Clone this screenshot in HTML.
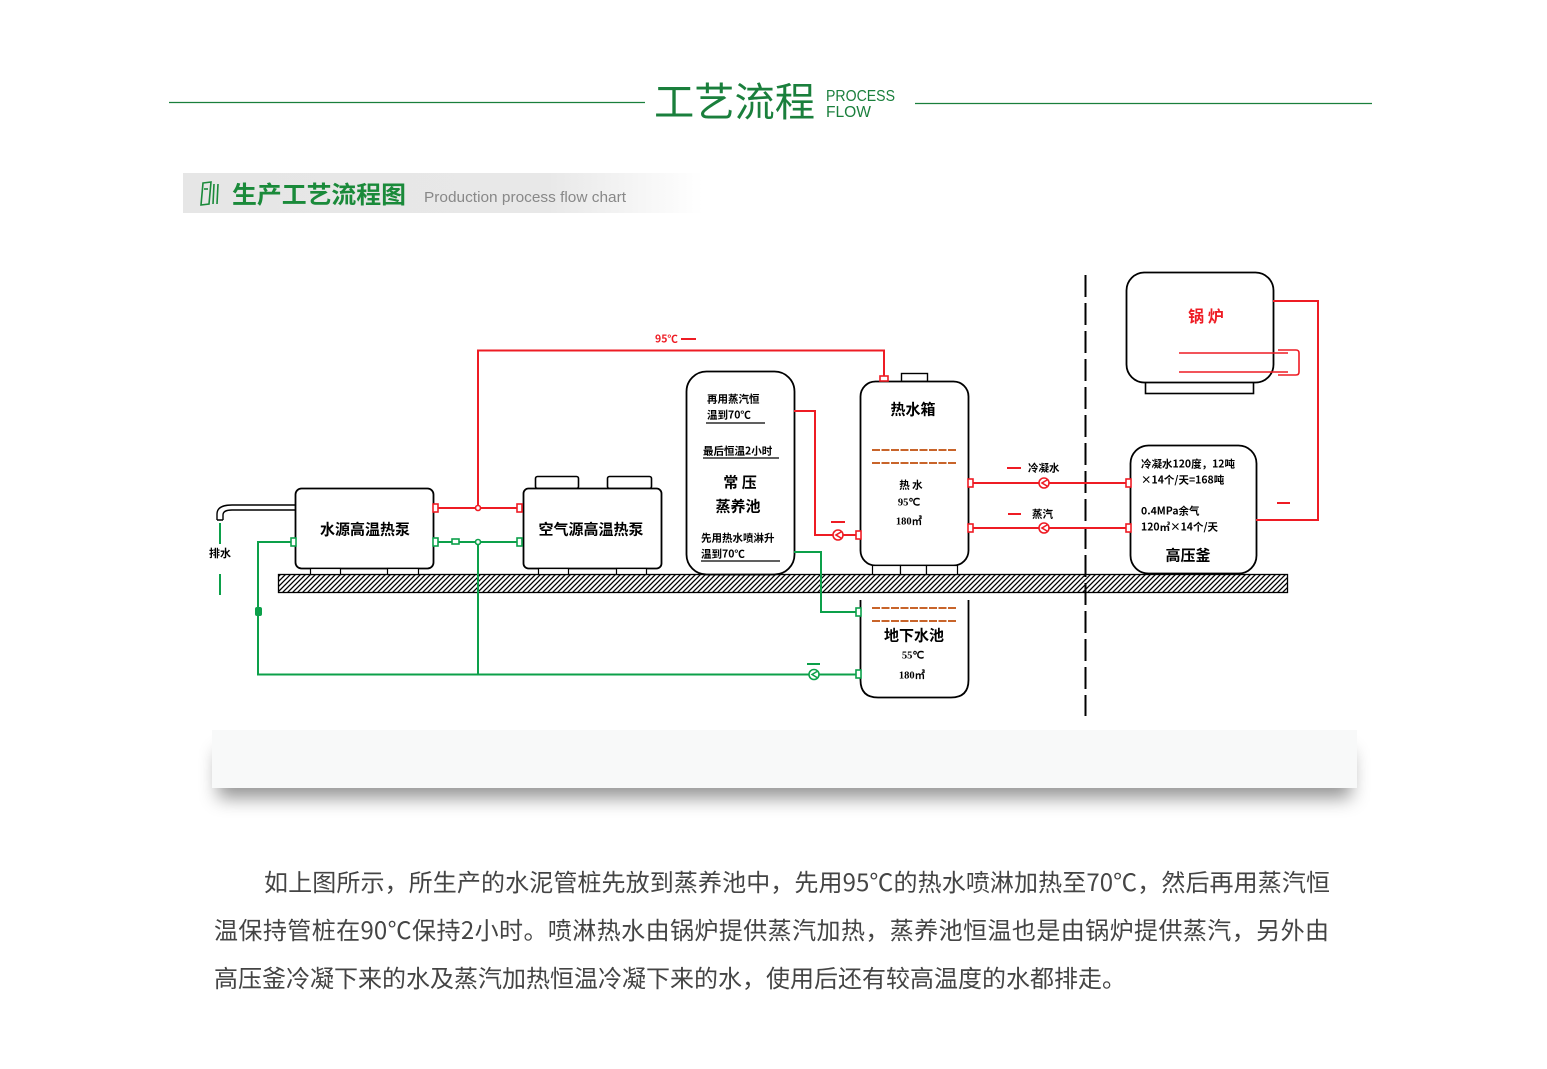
<!DOCTYPE html>
<html><head><meta charset="utf-8">
<style>
html,body{margin:0;padding:0;background:#fff;}
body{width:1547px;height:1069px;position:relative;overflow:hidden;font-family:"Liberation Sans","Noto Sans CJK SC",sans-serif;}
.panel{position:absolute;left:212px;top:730px;width:1145px;height:58px;background:#f8f9f9;box-shadow:0 16px 18px -6px rgba(0,0,0,0.42);}
.para{position:absolute;left:214px;font-size:24px;color:#444;font-family:"Noto Sans CJK SC","Liberation Sans",sans-serif;white-space:nowrap;line-height:30px;}
.j{text-align:justify;text-align-last:justify;white-space:normal;}
</style></head><body>
<div class="panel"></div>
<svg width="1547" height="1069" viewBox="0 0 1547 1069" style="position:absolute;left:0;top:0" xmlns="http://www.w3.org/2000/svg">
<defs>
<pattern id="hatch" patternUnits="userSpaceOnUse" width="5" height="5">
<rect width="5" height="5" fill="#fff"/>
<path d="M-1,6 L6,-1 M-1,1 L1,-1 M4,6 L6,4" stroke="#000" stroke-width="1.3"/>
</pattern>
<linearGradient id="bar" x1="0" x2="1" y1="0" y2="0">
<stop offset="0" stop-color="#e6e6e6"/>
<stop offset="0.7" stop-color="#e8e8e8"/>
<stop offset="1" stop-color="#ffffff"/>
</linearGradient>
</defs>

<!-- Header -->
<line x1="169" y1="102.5" x2="645" y2="102.5" stroke="#1a7f3c" stroke-width="1.3"/>
<line x1="915" y1="103.5" x2="1372" y2="103.5" stroke="#1a7f3c" stroke-width="1.3"/>
<text x="654" y="116" font-family="Noto Sans CJK SC, sans-serif" font-size="40" textLength="161" lengthAdjust="spacingAndGlyphs" fill="#1a7f3c">工艺流程</text>
<text x="826" y="101" font-family="Liberation Sans, sans-serif" font-size="15.5" textLength="69" lengthAdjust="spacingAndGlyphs" fill="#1a7f3c">PROCESS</text>
<text x="826" y="117" font-family="Liberation Sans, sans-serif" font-size="15.5" textLength="45" lengthAdjust="spacingAndGlyphs" fill="#1a7f3c">FLOW</text>

<!-- Section bar -->
<rect x="183" y="173" width="520" height="40" fill="url(#bar)"/>
<g stroke="#1a8a3a" stroke-width="1.6" fill="none">
<path d="M203,183 L211,182 L209,204 L201,205 Z"/>
<line x1="214" y1="184" x2="213" y2="204"/>
<line x1="218" y1="184" x2="217" y2="204"/>
<line x1="204" y1="189" x2="208" y2="189"/>
</g>
<text x="232" y="203" font-family="Noto Sans CJK SC, sans-serif" font-size="24" font-weight="bold" textLength="174" lengthAdjust="spacingAndGlyphs" fill="#1a8a3a">生产工艺流程图</text>
<text x="424" y="202" font-family="Liberation Sans, sans-serif" font-size="15" textLength="202" lengthAdjust="spacingAndGlyphs" fill="#888">Production process flow chart</text>

<!-- Ground -->
<rect x="278.5" y="574.5" width="1009" height="18" fill="url(#hatch)" stroke="#000" stroke-width="1.3"/>

<!-- Dashed divider -->
<line x1="1085.5" y1="275" x2="1085.5" y2="716" stroke="#000" stroke-width="2" stroke-dasharray="22,6"/>

<g font-family="Noto Sans CJK SC, sans-serif" fill="#000">
<!-- 水源高温热泵 -->
<rect x="295.5" y="488.5" width="138" height="80" rx="6" fill="#fff" stroke="#000" stroke-width="1.8"/>
<rect x="310.5" y="568.5" width="30" height="6" fill="#fff" stroke="#000" stroke-width="1.2"/>
<rect x="387.5" y="568.5" width="31" height="6" fill="#fff" stroke="#000" stroke-width="1.2"/>
<text x="365" y="529" font-size="15" font-weight="bold" text-anchor="middle" dominant-baseline="central">水源高温热泵</text>
<!-- drain pipe -->
<path d="M295,505 L232,505 M295,510 L232,510" stroke="#000" stroke-width="1.4" fill="none"/>
<path d="M232,505 Q217,505 217,514 L217,520 M232,510 Q223,510 223,515 L223,520 M217,520 L223,520" stroke="#000" stroke-width="1.4" fill="none"/>
<text x="220" y="553" font-size="11" font-weight="bold" text-anchor="middle" dominant-baseline="central">排水</text>
<line x1="220" y1="523" x2="220" y2="544" stroke="#0ca04a" stroke-width="2"/>
<line x1="220" y1="574" x2="220" y2="595" stroke="#0ca04a" stroke-width="2"/>

<!-- 空气源高温热泵 -->
<rect x="535.5" y="476.5" width="43" height="12" rx="2" fill="#fff" stroke="#000" stroke-width="1.6"/>
<rect x="607.5" y="476.5" width="44" height="12" rx="2" fill="#fff" stroke="#000" stroke-width="1.6"/>
<rect x="523.5" y="488.5" width="138" height="80" rx="5" fill="#fff" stroke="#000" stroke-width="1.8"/>
<rect x="538.5" y="568.5" width="30" height="6" fill="#fff" stroke="#000" stroke-width="1.2"/>
<rect x="616.5" y="568.5" width="30" height="6" fill="#fff" stroke="#000" stroke-width="1.2"/>
<text x="591" y="529" font-size="15" font-weight="bold" text-anchor="middle" dominant-baseline="central">空气源高温热泵</text>

<!-- 蒸养池 -->
<rect x="686.5" y="371.5" width="108" height="203" rx="20" fill="#fff" stroke="#000" stroke-width="1.8"/>
<text x="707" y="399" font-size="10.5" font-weight="bold" dominant-baseline="central">再用蒸汽恒</text>
<text x="707" y="415" font-size="10.5" font-weight="bold" dominant-baseline="central">温到70℃</text>
<line x1="706" y1="423" x2="765" y2="423" stroke="#000" stroke-width="1.2"/>
<text x="703" y="451" font-size="10.5" font-weight="bold" dominant-baseline="central">最后恒温2小时</text>
<line x1="703" y1="458" x2="779" y2="458" stroke="#000" stroke-width="1.2"/>
<text x="740" y="482" font-size="15" font-weight="bold" text-anchor="middle" dominant-baseline="central">常 压</text>
<text x="738" y="506" font-size="15" font-weight="bold" text-anchor="middle" dominant-baseline="central">蒸养池</text>
<text x="701" y="538" font-size="10.5" font-weight="bold" dominant-baseline="central">先用热水喷淋升</text>
<text x="701" y="554" font-size="10.5" font-weight="bold" dominant-baseline="central">温到70℃</text>
<line x1="701" y1="561" x2="780" y2="561" stroke="#000" stroke-width="1.2"/>

<!-- 热水箱 -->
<rect x="901.5" y="373.5" width="26" height="8" fill="#fff" stroke="#000" stroke-width="1.4"/>
<rect x="860.5" y="381.5" width="108" height="184" rx="15" fill="#fff" stroke="#000" stroke-width="1.8"/>
<rect x="872.5" y="565.5" width="28" height="9" fill="#fff" stroke="#000" stroke-width="1.2"/>
<rect x="900.5" y="565.5" width="26" height="9" fill="#fff" stroke="#000" stroke-width="1.2"/>
<rect x="926.5" y="565.5" width="31" height="9" fill="#fff" stroke="#000" stroke-width="1.2"/>
<text x="913" y="409" font-size="15" font-weight="bold" text-anchor="middle" dominant-baseline="central">热水箱</text>
<line x1="872" y1="450" x2="957" y2="450" stroke="#c8642a" stroke-width="2" stroke-dasharray="8,1.5"/>
<line x1="872" y1="463" x2="957" y2="463" stroke="#c8642a" stroke-width="2" stroke-dasharray="8,1.5"/>
<text x="911" y="485" font-size="10.5" font-weight="bold" text-anchor="middle" dominant-baseline="central">热 水</text>
<text x="909" y="503" font-size="10.5" font-weight="bold" font-family="Liberation Serif, serif" text-anchor="middle" dominant-baseline="central">95℃</text>
<text x="909" y="522" font-size="10.5" font-weight="bold" font-family="Liberation Serif, serif" text-anchor="middle" dominant-baseline="central">180㎥</text>

<!-- 地下水池 -->
<path d="M860.5,600 L860.5,680 Q860.5,697.5 878,697.5 L951,697.5 Q968.5,697.5 968.5,680 L968.5,600" fill="#fff" stroke="#000" stroke-width="1.8"/>
<line x1="872" y1="608" x2="957" y2="608" stroke="#c8642a" stroke-width="2" stroke-dasharray="8,1.5"/>
<line x1="872" y1="621" x2="957" y2="621" stroke="#c8642a" stroke-width="2" stroke-dasharray="8,1.5"/>
<text x="914" y="635" font-size="15" font-weight="bold" text-anchor="middle" dominant-baseline="central">地下水池</text>
<text x="913" y="656" font-size="10.5" font-weight="bold" font-family="Liberation Serif, serif" text-anchor="middle" dominant-baseline="central">55℃</text>
<text x="912" y="676" font-size="10.5" font-weight="bold" font-family="Liberation Serif, serif" text-anchor="middle" dominant-baseline="central">180㎥</text>

<!-- 锅炉 -->
<rect x="1145.5" y="381.5" width="108" height="12" fill="#fff" stroke="#000" stroke-width="1.6"/>
<rect x="1126.5" y="272.5" width="147" height="110" rx="18" fill="#fff" stroke="#000" stroke-width="1.8"/>
<text x="1206" y="315" font-size="16" font-weight="bold" fill="#ee1c24" text-anchor="middle" dominant-baseline="central">锅 炉</text>
<path d="M1179,353 L1288,353 M1179,372 L1288,372 M1278,350 L1296,350 Q1299,350 1299,353 L1299,372 Q1299,375 1296,375 L1278,375" stroke="#ee1c24" stroke-width="1.6" fill="none"/>

<!-- 高压釜 -->
<rect x="1130.5" y="445.5" width="126" height="128" rx="18" fill="#fff" stroke="#000" stroke-width="1.8"/>
<text x="1141" y="464" font-size="10.5" font-weight="bold" dominant-baseline="central">冷凝水120度，12吨</text>
<text x="1141" y="480" font-size="10.5" font-weight="bold" dominant-baseline="central">×14个/天=168吨</text>
<text x="1141" y="511" font-size="10.5" font-weight="bold" dominant-baseline="central">0.4MPa余气</text>
<text x="1141" y="527" font-size="10.5" font-weight="bold" dominant-baseline="central">120㎥×14个/天</text>
<text x="1188" y="555" font-size="15" font-weight="bold" text-anchor="middle" dominant-baseline="central">高压釜</text>
</g>

<!-- RED PIPES -->
<g stroke="#ee1c24" stroke-width="2" fill="none">
<path d="M433,508 L522,508"/>
<path d="M478,508 L478,350.5 L884,350.5 L884,378"/>
<path d="M794,411 L815,411 L815,535 L860,535"/>
<path d="M968,483 L1130,483"/>
<path d="M968,528 L1130,528"/>
<path d="M1273,301 L1318,301 L1318,520 L1256,520"/>
</g>
<g stroke="#ee1c24" stroke-width="1.6" fill="#fff">
<rect x="433" y="504" width="5" height="8"/>
<rect x="517" y="504" width="5" height="8"/>
<circle cx="478" cy="508" r="2.5"/>
<rect x="880" y="376" width="8" height="5"/>
<rect x="856" y="531" width="5" height="8"/>
<circle cx="838" cy="535" r="5"/>
<rect x="968" y="479" width="5" height="8"/>
<rect x="1126" y="479" width="5" height="8"/>
<rect x="968" y="524" width="5" height="8"/>
<rect x="1126" y="524" width="5" height="8"/>
<circle cx="1044" cy="483" r="5"/>
<circle cx="1044" cy="528" r="5"/>
</g>
<g stroke="#ee1c24" stroke-width="1.6" fill="none">
<path d="M841,532 L836,535 L841,538"/>
<path d="M1047,480 L1042,483 L1047,486"/>
<path d="M1047,525 L1042,528 L1047,531"/>
</g>
<g stroke="#ee1c24" stroke-width="2">
<line x1="681" y1="339" x2="696" y2="339"/>
<line x1="831" y1="522" x2="845" y2="522"/>
<line x1="1007" y1="468" x2="1021" y2="468"/>
<line x1="1008" y1="514" x2="1021" y2="514"/>
<line x1="1277" y1="503" x2="1290" y2="503"/>
</g>
<g font-family="Noto Sans CJK SC, sans-serif" font-weight="bold" font-size="10.5" dominant-baseline="central">
<text x="655" y="339" fill="#ee1c24">95℃</text>
<text x="1028" y="468" fill="#000">冷凝水</text>
<text x="1032" y="514" fill="#000">蒸汽</text>
</g>

<!-- GREEN PIPES -->
<g stroke="#0ca04a" stroke-width="2" fill="none">
<path d="M433,542 L522,542"/>
<path d="M478,542 L478,674"/>
<path d="M295,542 L258,542 L258,674.5 L860,674.5"/>
<path d="M794,552 L821,552 L821,612 L860,612"/>
</g>
<g stroke="#0ca04a" stroke-width="1.6" fill="#fff">
<rect x="433" y="538" width="5" height="8"/>
<rect x="517" y="538" width="5" height="8"/>
<rect x="291" y="538" width="5" height="8"/>
<rect x="452" y="539" width="7" height="5"/>
<circle cx="478" cy="542" r="2.5"/>
<rect x="856" y="608" width="5" height="8"/>
<rect x="856" y="670" width="5" height="8"/>
<circle cx="814" cy="674.5" r="5"/>
</g>
<path d="M817,671.5 L812,674.5 L817,677.5" stroke="#0ca04a" stroke-width="1.5" fill="none"/>
<rect x="255" y="607" width="7" height="9" rx="2" fill="#0ca04a"/>
<line x1="807" y1="664" x2="820" y2="664" stroke="#0ca04a" stroke-width="2"/>
</svg>

<div class="para j" style="top:866px;left:264px;width:1066px;">如上图所示，所生产的水泥管桩先放到蒸养池中，先用95℃的热水喷淋加热至70℃，然后再用蒸汽恒</div>
<div class="para j" style="top:914px;width:1115px;">温保持管桩在90℃保持2小时。喷淋热水由锅炉提供蒸汽加热，蒸养池恒温也是由锅炉提供蒸汽，另外由</div>
<div class="para" style="top:962px;">高压釜冷凝下来的水及蒸汽加热恒温冷凝下来的水，使用后还有较高温度的水都排走。</div>
</body></html>
